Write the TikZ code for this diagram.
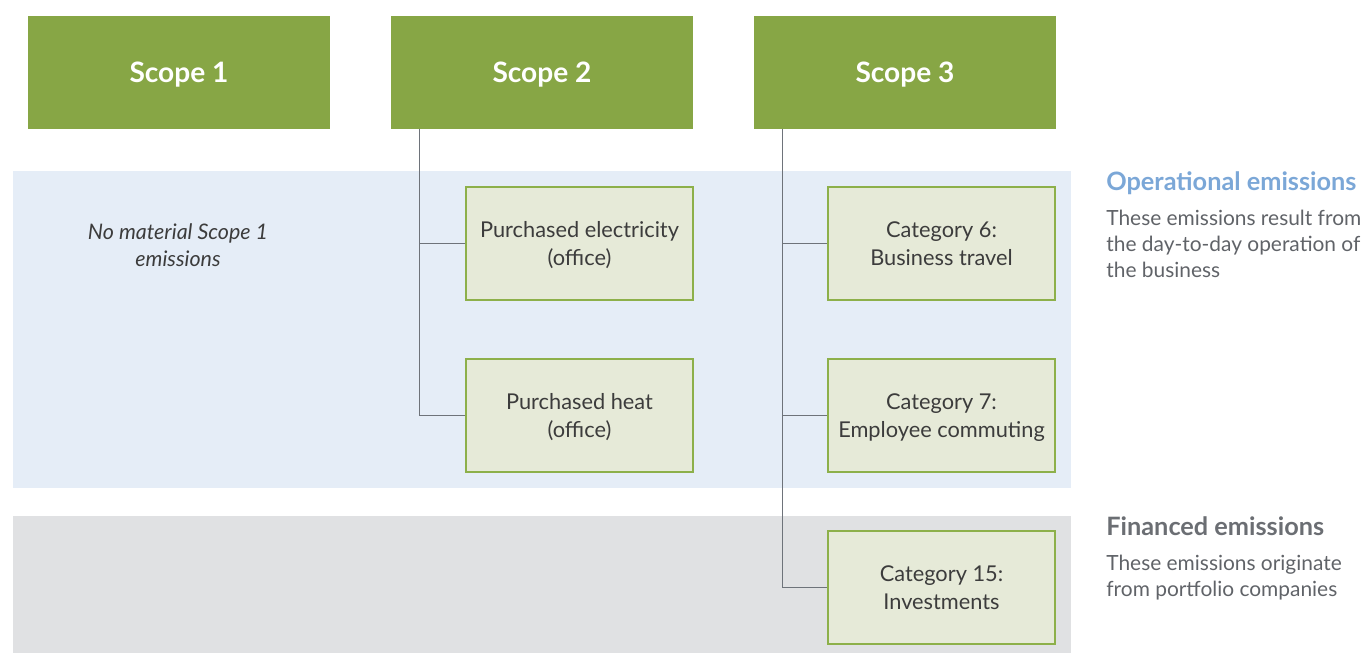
\documentclass[tikz,border=0pt]{standalone}
\usepackage{fontspec}
\setmainfont{Lato}
\usepackage{tikz}
\usetikzlibrary{calc}
\definecolor{scopegreen}{RGB}{135,166,69}
\definecolor{boxfill}{RGB}{230,234,216}
\definecolor{boxline}{RGB}{141,176,74}
\definecolor{opblue}{RGB}{229,237,247}
\definecolor{fingrey}{RGB}{224,225,227}
\definecolor{linkgrey}{RGB}{110,115,122}
\definecolor{txtgrey}{RGB}{60,60,60}
\definecolor{headblue}{RGB}{123,167,215}
\definecolor{headgrey}{RGB}{107,110,115}

\tikzset{
  scopebox/.style={fill=scopegreen, text=white, font=\fontsize{16}{19}\selectfont\bfseries,
    minimum width=6.04cm, minimum height=2.26cm, inner sep=0pt, text depth=0pt},
  catbox/.style={fill=boxfill, draw=boxline, line width=0.8pt, text=txtgrey, align=center,
    font=\fontsize{12.4}{16}\selectfont, minimum width=4.54cm, minimum height=2.26cm, inner sep=0pt,
    text depth=0pt},
  link/.style={draw=linkgrey, line width=0.8pt},
  sidehead/.style={anchor=north west, inner sep=0pt, font=\fontsize{14.4}{16}\selectfont\bfseries},
  sidetext/.style={anchor=north west, inner sep=0pt, align=left, text=headgrey!90!black,
    font=\fontsize{11.9}{14.8}\selectfont}
}

\begin{document}
\begin{tikzpicture}[x=0.02cm, y=-0.02cm]
\useasboundingbox (0,0) rectangle (1372,653);

% bands
\fill[opblue] (13,171) rectangle (1071,488);
\fill[fingrey] (13,516) rectangle (1071,653);

% scope headers
\node[scopebox] (s1) at (179,72.5) {Scope 1};
\node[scopebox] (s2) at (542,72.5) {Scope 2};
\node[scopebox] (s3) at (905,72.5) {Scope 3};

% categories
\node[catbox] (pe) at (579.5,243.5) {Purchased electricity\\(office)};
\node[catbox] (ph) at (579.5,415.5) {Purchased heat\\(office)};
\node[catbox] (c6) at (941.5,243.5) {Category 6:\\Business travel};
\node[catbox] (c7) at (941.5,415.5) {Category 7:\\Employee commuting};
\node[catbox] (c15) at (941.5,587.5) {Category 15:\\Investments};

% connectors
\draw[link] ([xshift=0.58cm]s2.south west) |- (pe.west);
\draw[link] ([xshift=0.58cm]s2.south west) |- (ph.west);
\draw[link] ([xshift=0.58cm]s3.south west) |- (c6.west);
\draw[link] ([xshift=0.58cm]s3.south west) |- (c7.west);
\draw[link] ([xshift=0.58cm]s3.south west) |- (c15.west);

\node[align=center, text=txtgrey, font=\fontsize{12.2}{15.5}\selectfont\itshape] (none) at (178,245)
  {No material Scope 1\\emissions};

% side notes
\node[sidehead, text=headblue] (ophead) at (1106,171) {Operational emissions};
\node[sidetext] (optext) at (1106,210) {These emissions result from\\the day-to-day operation of\\the business};
\node[sidehead, text=headgrey] (finhead) at (1106,516) {Financed emissions};
\node[sidetext] (fintext) at (1106,555) {These emissions originate\\from portfolio companies};
\end{tikzpicture}
\end{document}
